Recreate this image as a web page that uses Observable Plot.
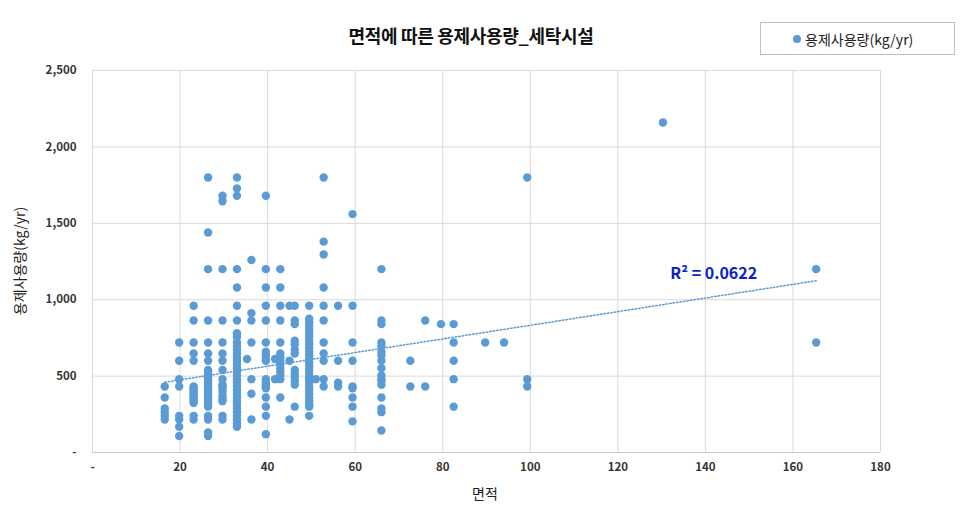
<!DOCTYPE html>
<html><head><meta charset="utf-8">
<script src="https://cdn.jsdelivr.net/npm/d3@7"></script>
<script src="https://cdn.jsdelivr.net/npm/@observablehq/plot@0.6"></script>
<style>
html,body{margin:0;padding:0;background:#fff;}
#wrap{position:relative;width:969px;height:514px;font-family:"Noto Sans CJK KR","Noto Sans",sans-serif;}
#title{position:absolute;left:0;width:942px;top:22px;text-align:center;font-size:18px;font-weight:bold;color:#111;letter-spacing:-0.3px;}
#legend{position:absolute;left:760px;top:22px;width:195px;height:33px;border:1px solid #bfbfbf;box-sizing:border-box;font-size:14px;color:#222;display:flex;align-items:center;}
#legend .dot{display:inline-block;width:8px;height:8px;border-radius:50%;background:#5B9BD5;margin-left:32px;margin-right:4px;}
#xlab{position:absolute;left:0;width:970px;text-align:center;top:483px;font-size:14px;color:#222;}
#ylab{position:absolute;left:19px;top:261px;transform:translate(-50%,-50%) rotate(-90deg);font-size:14px;color:#222;white-space:nowrap;}
#chart{position:absolute;left:0;top:0;}
</style></head>
<body>
<div id="wrap">
<div id="chart"></div>
<div id="title"></div>
<div id="legend"><span class="dot"></span><span id="legtext"></span></div>
<div id="xlab"></div>
<div id="ylab"></div>
</div>
<script>
const titleText = "면적에 따른 용제사용량_세탁시설";
const seriesName = "용제사용량(kg/yr)";
const xLabel = "면적";
const yLabel = "용제사용량(kg/yr)";
const xTicks = [0,20,40,60,80,100,120,140,160,180];
const yTicks = [0,500,1000,1500,2000,2500];

// columns of 면적 and the 용제사용량 values read at each
const colArea = [16.5,19.8,23.1,26.4,29.7,33,35.3,36.3,39.6,41.7,42.9,45,46.2,49.5,51,52.8,56.1,59.4,66,72.6,76,79.6,82.5,89.7,94,99.3,130.3,165.3];
const colUsage = [
 [432,360,288,264,240,216],
 [720,600,480,432,240,216,168,108],
 [960,864,720,648,600,432,420,408,396,384,372,360,348,336,324,240,216],
 [1800,1440,1200,864,720,648,600,540,528,516,504,492,480,468,456,444,432,420,408,396,384,372,360,348,336,324,312,300,240,216,132,108],
 [1680,1644,1200,864,720,648,600,540,480,444,432,420,396,372,348,336,240,216],
 [1800,1728,1680,1200,1080,960,864,780,756,720,696,672,648,624,600,576,552,528,504,480,456,432,408,384,360,336,312,288,264,240,216,192,168],
 [612],
 [1260,912,864,720,480,384,216],
 [1680,1200,1080,960,864,720,660,636,612,600,480,456,444,432,420,360,300,240,120],
 [612,480],
 [1200,1080,960,864,720,648,624,600,576,552,528,504,480,360],
 [960,600,216],
 [960,864,840,732,708,672,648,540,516,492,468,444,300],
 [960,876,852,828,804,780,756,732,708,684,660,636,612,588,564,540,516,492,480,456,432,408,384,360,336,312,300,240],
 [480],
 [1800,1380,1296,1080,960,864,720,648,600,480,432],
 [960,600,456,432],
 [1560,960,720,600,432,420,360,300,204],
 [1200,864,840,720,696,660,636,600,552,504,480,468,444,360,288,264,144],
 [600,432],
 [864,432],
 [840],
 [840,720,600,480,300],
 [720],
 [720],
 [1800,480,432],
 [2160],
 [1200,720]
];
const trendX = [16.5,165.3];
const trendY = [460,1124];
const r2Text = "R² = 0.0622";
const r2Pos = [132,1171];

const points = colArea.flatMap((a,i)=>colUsage[i].map(u=>({area:a,usage:u})));
const trend = trendX.map((x,i)=>({x, y:trendY[i]}));

document.getElementById("title").textContent = titleText;
document.getElementById("legtext").textContent = seriesName;
document.getElementById("xlab").textContent = xLabel;
document.getElementById("ylab").textContent = yLabel;

const xf = d => d===0 ? "-" : String(d);
const yf = d => d===0 ? "-" : d3.format(",")(d);

const chart = Plot.plot({
  width: 969, height: 514,
  marginTop: 70, marginBottom: 62, marginLeft: 92, marginRight: 89,
  style: {fontFamily: '"Noto Sans CJK KR","Noto Sans",sans-serif', background: "#fff"},
  x: {domain:[0,180]},
  y: {domain:[0,2500]},
  marks: [
    Plot.gridX(xTicks, {stroke:"#d9d9d9", strokeOpacity:1}),
    Plot.gridY(yTicks, {stroke:"#d9d9d9", strokeOpacity:1}),
    Plot.ruleY([0], {stroke:"#c8c8c8", strokeWidth:1.2}),
    Plot.axisX(xTicks, {tickSize:0, tickPadding:10, tickFormat:xf, label:null, fontSize:11.5, fontWeight:"bold", fill:"#333"}),
    Plot.axisY(yTicks, {tickSize:0, tickPadding:16, tickFormat:yf, label:null, fontSize:11.5, fontWeight:"bold", fill:"#333"}),
    Plot.dot(points, {x:"area", y:"usage", r:4.2, fill:"#5B9BD5", stroke:"none"}),
    Plot.line(trend, {x:"x", y:"y", stroke:"#5B9BD5", strokeWidth:1.5, strokeDasharray:"1.5,2"}),
    Plot.text([r2Text], {x:()=>r2Pos[0], y:()=>r2Pos[1], text:d=>d, textAnchor:"start", fontSize:16, fontWeight:"bold", fill:"#0A22C8"})
  ]
});
document.getElementById("chart").appendChild(chart);
</script>
</body></html>
